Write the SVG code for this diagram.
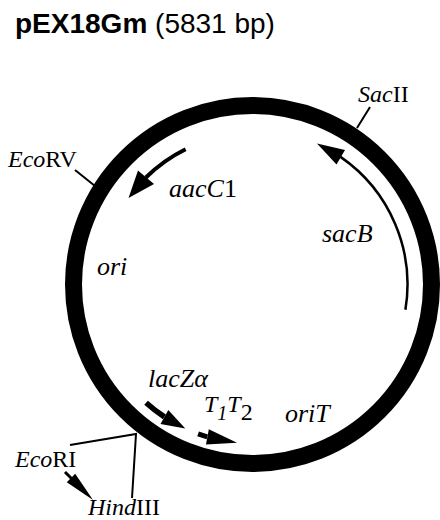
<svg xmlns="http://www.w3.org/2000/svg" width="440" height="520" viewBox="0 0 440 520">
<style>
.lbl{font-family:"Liberation Serif","Times New Roman",serif;font-size:24px;fill:#000}
.big{font-size:26px}
.it{font-style:italic}
.shaft{fill:none;stroke:#000}
.head{fill:#000;stroke:none}
.tick{fill:none;stroke:#000;stroke-width:2}
</style>
<rect width="440" height="520" fill="#fff"/>
<g id="title">
<text x="15" y="33" font-family="Liberation Sans, Arial, sans-serif" font-size="28" fill="#000"><tspan font-weight="bold">pEX18Gm</tspan> (5831 bp)</text>
</g>
<g id="plasmid">
<circle cx="252.5" cy="284.5" r="179" fill="none" stroke="#000" stroke-width="17"/>
</g>
<g id="connectors">
<line class="tick" x1="370" y1="107" x2="357" y2="128"/>
<line class="tick" x1="75" y1="170" x2="95" y2="186"/>
<polyline class="tick" points="70,445 136,434 132,498"/>
</g>
<g id="aacC1">
<path class="shaft" stroke-width="4" d="M185.6 149.2 A151 151 0 0 0 145.9 177.5"/>
<polygon class="head" points="128.5,198 154,184 138,170.5"/>
<text class="lbl big it" x="169" y="197">aacC<tspan font-style="normal">1</tspan></text>
</g>
<g id="sacB">
<path class="shaft" stroke-width="2.5" d="M405.4 309.8 A155 155 0 0 0 340.5 156.9"/>
<polygon class="head" points="317,143.5 345,150 336.5,164.5"/>
<text class="lbl big it" x="322" y="242">sacB</text>
</g>
<g id="ori">
<text class="lbl big it" x="97" y="275">ori</text>
</g>
<g id="lacZa">
<path class="shaft" stroke-width="5.5" d="M146.1 402.7 A159 159 0 0 0 164.4 416.9"/>
<polygon class="head" points="185.3,428.6 160.5,424 168.3,410"/>
<text class="lbl big it" x="148" y="387">lacZα</text>
</g>
<g id="T1T2">
<path class="shaft" stroke-width="5" d="M198.1 433.9 A159 159 0 0 0 207.3 436.9"/>
<polygon class="head" points="237,442.7 206,444.5 208.8,429.3"/>
<text class="lbl it" x="204" y="412" font-size="26">T<tspan font-size="20" dy="8">1</tspan><tspan dy="-8">T</tspan><tspan font-size="24" font-style="normal" dy="8">2</tspan></text>
</g>
<g id="oriT">
<text class="lbl big it" x="285" y="422">oriT</text>
</g>
<g id="SacII">
<text class="lbl" x="358" y="102"><tspan font-style="italic">Sac</tspan>II</text>
</g>
<g id="EcoRV">
<text class="lbl" x="8" y="167"><tspan font-style="italic">Eco</tspan>RV</text>
</g>
<g id="EcoRI">
<text class="lbl" x="15" y="467"><tspan font-style="italic">Eco</tspan>RI</text>
<path class="shaft" stroke-width="3" d="M65 472 L73 480"/>
<polygon class="head" points="93,500 66.8,482.2 75.2,473.8"/>
</g>
<g id="HindIII">
<text class="lbl" x="88" y="515"><tspan font-style="italic">Hind</tspan>III</text>
</g>
</svg>
